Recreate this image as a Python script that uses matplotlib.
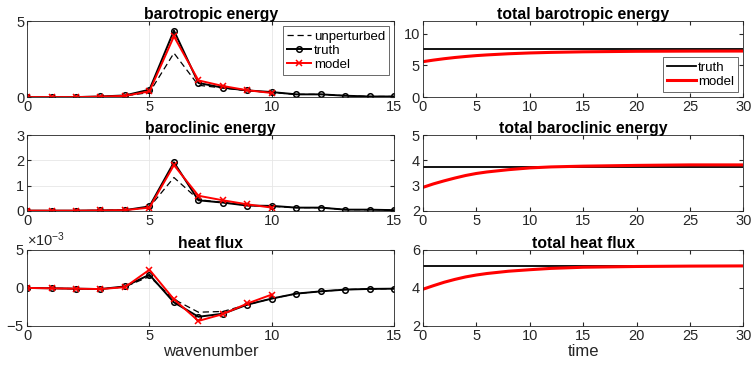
import numpy as np
import matplotlib
matplotlib.use('Agg')
import matplotlib.pyplot as plt
from matplotlib.ticker import ScalarFormatter

plt.rcParams['font.family'] = ['Liberation Sans', 'DejaVu Sans']
plt.rcParams['mathtext.fontset'] = 'custom'
plt.rcParams['mathtext.rm'] = 'Liberation Sans'
plt.rcParams['axes.unicode_minus'] = False

# wavenumber spectra
k = list(range(16))
k_model = list(range(11))

bt_truth = [0, 0, 0, 0.04, 0.11, 0.49, 4.38, 0.93, 0.62, 0.44, 0.33, 0.18, 0.18, 0.09, 0.04, 0.04]
bt_unpert = [0, 0, 0, 0.03, 0.08, 0.30, 2.90, 0.78, 0.60, 0.42, 0.30, 0.18, 0.18, 0.09, 0.04, 0.04]
bt_model = [0, 0, 0, 0.03, 0.08, 0.38, 4.00, 1.10, 0.73, 0.45, 0.27]

bc_truth = [0.01, 0.01, 0.01, 0.02, 0.03, 0.18, 1.92, 0.42, 0.33, 0.21, 0.20, 0.13, 0.13, 0.05, 0.05, 0.03]
bc_unpert = [0.01, 0.01, 0.01, 0.02, 0.03, 0.15, 1.32, 0.45, 0.33, 0.22, 0.18, 0.13, 0.13, 0.05, 0.05, 0.03]
bc_model = [0.01, 0.01, 0.01, 0.02, 0.03, 0.13, 1.81, 0.60, 0.42, 0.26, 0.13]

hf_truth = [0, -0.05, -0.1, -0.15, 0.2, 1.74, -1.9, -3.8, -3.4, -2.2, -1.4, -0.75, -0.45, -0.22, -0.13, -0.1]
hf_unpert = [0, -0.05, -0.1, -0.15, 0.15, 1.5, -1.5, -3.2, -3.1, -2.2, -1.4, -0.75, -0.45, -0.22, -0.13, -0.1]
hf_model = [0, -0.05, -0.1, -0.15, 0.1, 2.4, -1.5, -4.35, -3.45, -2.05, -0.87]

# time series of totals
t = [0, 1, 2, 3, 4, 5, 6, 8, 10, 12, 15, 20, 25, 30]
tot_bt_truth = 7.63
tot_bt_model = [5.6, 5.85, 6.07, 6.26, 6.42, 6.56, 6.67, 6.85, 6.98, 7.07, 7.16, 7.24, 7.27, 7.28]
tot_bc_truth = 3.72
tot_bc_model = [2.93, 3.07, 3.19, 3.30, 3.40, 3.48, 3.54, 3.63, 3.70, 3.74, 3.77, 3.80, 3.82, 3.82]
tot_hf_truth = 5.18
tot_hf_model = [3.93, 4.12, 4.30, 4.45, 4.58, 4.68, 4.76, 4.88, 4.96, 5.03, 5.09, 5.13, 5.15, 5.16]

fig = plt.figure(figsize=(7.51, 3.72), dpi=100)
axc = '#262626'
fs = 10.5
tfs = 11.3

lefts = [0.036, 0.563]
widths = [0.489, 0.427]
bottoms = [0.739, 0.433, 0.124]
h = 0.204

def style(ax, grid):
    ax.tick_params(direction='in', top=True, right=True, labelsize=fs, colors=axc, length=3, pad=2)
    for s in ax.spines.values():
        s.set_color(axc)
        s.set_linewidth(0.6)
    if grid:
        ax.grid(True, color='#e6e6e6', linewidth=0.6)
        ax.set_axisbelow(True)

left_data = [
    ('barotropic energy', bt_unpert, bt_truth, bt_model, (0, 5), [0, 5], 1),
    ('baroclinic energy', bc_unpert, bc_truth, bc_model, (0, 3), [0, 1, 2, 3], 1),
    ('heat flux', hf_unpert, hf_truth, hf_model, (-5e-3, 5e-3), [-5e-3, 0, 5e-3], 1e-3),
]
for i, (title, up, tr, md, yl, yt, sc) in enumerate(left_data):
    ax = fig.add_axes([lefts[0], bottoms[i], widths[0], h])
    ax.plot(k, np.array(up) * sc, '--', color='k', lw=0.9, dashes=(5, 3), label='unperturbed')
    ax.plot(k, np.array(tr) * sc, '-o', color='k', lw=1.4, ms=4, mfc='none', mew=1.1, label='truth')
    ax.plot(k_model, np.array(md) * sc, '-x', color='r', lw=1.4, ms=4, mew=1.1, label='model')
    ax.set_xlim(0, 15)
    ax.set_ylim(*yl)
    ax.set_xticks([0, 5, 10, 15])
    ax.set_yticks(yt)
    ax.set_title(title, fontsize=tfs, fontweight='bold', pad=1.5)
    style(ax, True)
    if i == 0:
        leg = ax.legend(loc='upper right', fontsize=9.5, frameon=True, fancybox=False,
                        edgecolor=axc, borderpad=0.3, labelspacing=0.15, handlelength=1.8,
                        handletextpad=0.2, borderaxespad=0.4)
        leg.get_frame().set_linewidth(0.6)
    if i == 2:
        fmt = ScalarFormatter(useMathText=True)
        fmt.set_powerlimits((-2, 2))
        ax.yaxis.set_major_formatter(fmt)
        ax.yaxis.get_offset_text().set_fontsize(fs)
        ax.yaxis.get_offset_text().set_color(axc)
        ax.set_xlabel('wavenumber', fontsize=12, color=axc, labelpad=1)

right_data = [
    ('total barotropic energy', tot_bt_truth, tot_bt_model, (0, 12), [0, 5, 10]),
    ('total baroclinic energy', tot_bc_truth, tot_bc_model, (2, 5), [2, 3, 4, 5]),
    ('total heat flux', tot_hf_truth, tot_hf_model, (2, 6), [2, 4, 6]),
]
for i, (title, tr, md, yl, yt) in enumerate(right_data):
    ax = fig.add_axes([lefts[1], bottoms[i], widths[1], h])
    ax.plot([t[0], t[-1]], [tr, tr], color='k', lw=1.3, label='truth')
    ax.plot(t, md, color='r', lw=2.2, label='model')
    ax.set_xlim(0, 30)
    ax.set_ylim(*yl)
    ax.set_xticks(range(0, 31, 5))
    ax.set_yticks(yt)
    ax.set_title(title, fontsize=tfs, fontweight='bold', pad=1.5)
    style(ax, False)
    if i == 0:
        leg = ax.legend(loc='lower right', fontsize=9.5, frameon=True, fancybox=False,
                        edgecolor=axc, borderpad=0.3, labelspacing=0.15, handlelength=2.2,
                        handletextpad=0.2, borderaxespad=0.4)
        leg.get_frame().set_linewidth(0.6)
    if i == 2:
        ax.set_xlabel('time', fontsize=12, color=axc, labelpad=1)

fig.savefig('out.png', dpi=100)
